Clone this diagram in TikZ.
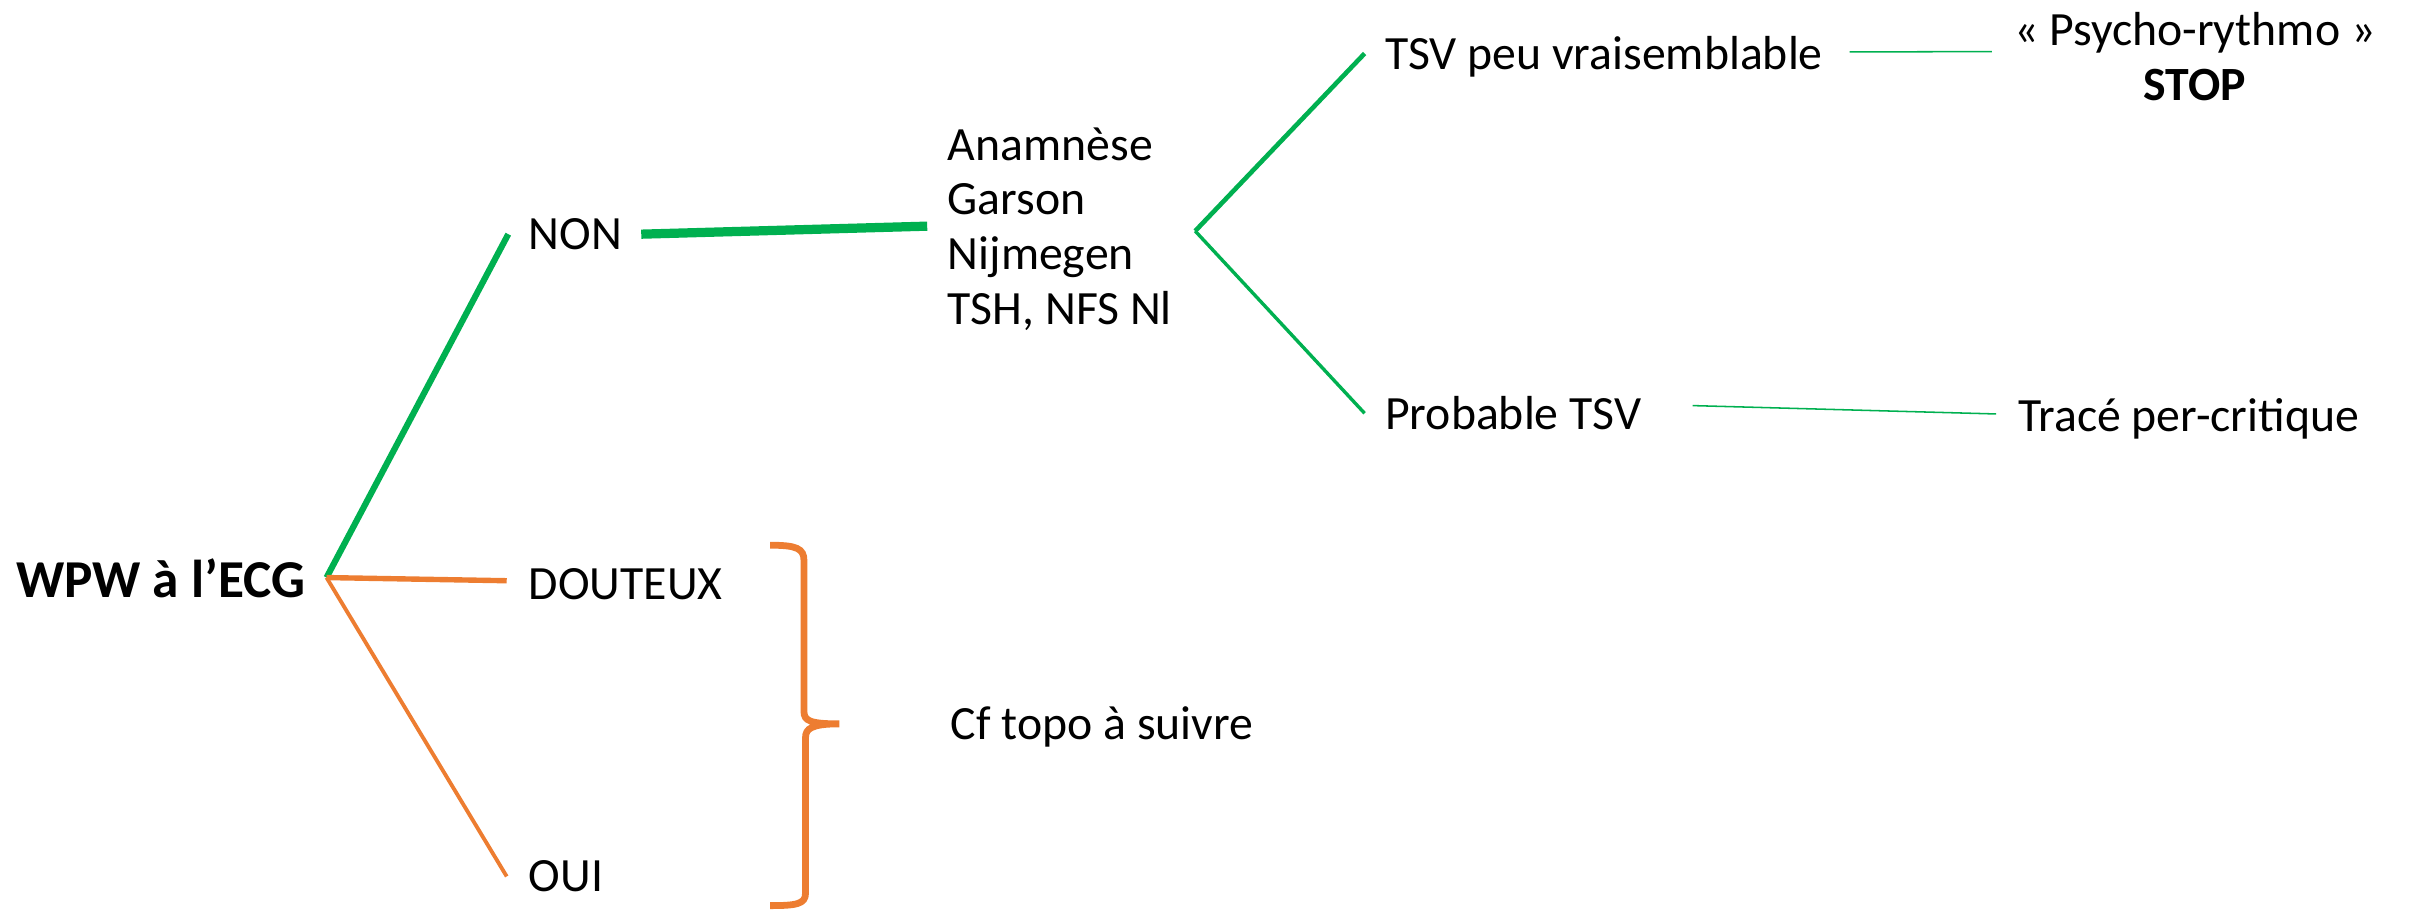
\documentclass[tikz,border=0pt]{standalone}
\usepackage{fontspec}
\setmainfont{Carlito}
\usetikzlibrary{calc}
\definecolor{brgreen}{HTML}{00B050}
\definecolor{brorange}{HTML}{ED7D31}
\begin{document}
\begin{tikzpicture}[x=0.5pt,y=-0.5pt,
  lbl/.style={inner sep=0pt, anchor=base west, font=\fontsize{15.5}{17.85}\selectfont},
  gline/.style={draw=brgreen},
  oline/.style={draw=brorange},
  bracepath/.style={draw=brorange, line width=2.2pt, line cap=butt}]
\useasboundingbox (0,0) rectangle (1568,592);

% labels (multi-line nodes sit on the baseline of their last line)
\node[lbl, font=\bfseries\fontsize{17.3}{20}\selectfont] (root) at (10,388) {WPW à l’ECG};
\node[lbl] (non) at (343,162) {NON};
\node[lbl] (dout) at (343,389) {DOUTEUX};
\node[lbl] (oui) at (343,579) {OUI};
\node[lbl, align=left] (tests) at (615,211) {Anamnèse\\Garson\\Nijmegen\\TSH, NFS Nl};
\node[lbl] (tsvno) at (899,45) {TSV peu vraisemblable};
\node[lbl] (prob) at (899,279) {Probable TSV};
\node[lbl, anchor=base, align=center] (psy) at (1425,65) {« Psycho-rythmo »\\\textbf{STOP}};
\node[lbl] (trace) at (1310,280) {Tracé per-critique};
\node[lbl] (topo) at (617,480) {Cf topo à suivre};

% branching points
\coordinate (fork) at (212,375);
\coordinate (split) at (776,150);

% green branch
\draw[gline, line width=2pt] (fork) -- ($(non.west)+(-13,0)$);
\draw[gline, line width=3pt] ($(non.east)+(12,0)$) -- ($(tests.west)+(-13,-2)$);
\draw[gline, line width=1.5pt] (split) -- ($(tsvno.west)+(-13,-2)$);
\draw[gline, line width=1.1pt] (split) -- ($(prob.west)+(-13,0)$);
\draw[gline, line width=0.5pt] ($(tsvno.east)+(17,-3)$) -- ($(psy.west)+(-14,-3)$);
\draw[gline, line width=0.5pt] ($(prob.east)+(33,-5)$) -- ($(trace.west)+(-14,-3)$);

% orange branch
\draw[oline, line width=1.75pt] (fork) -- ($(dout.west)+(-14,-2)$);
\draw[oline, line width=1.25pt] (fork) -- ($(oui.west)+(-14,0)$);

% closing brace
\draw[bracepath] (500,354) .. controls (517,354) and (522,356) .. (522,364)
  -- (522,462) .. controls (522,468) and (526,470) .. (545,470)
  .. controls (527,470) and (523,473) .. (523,479)
  -- (523,580) .. controls (523,587) and (517,588) .. (500,588);
\end{tikzpicture}
\end{document}
